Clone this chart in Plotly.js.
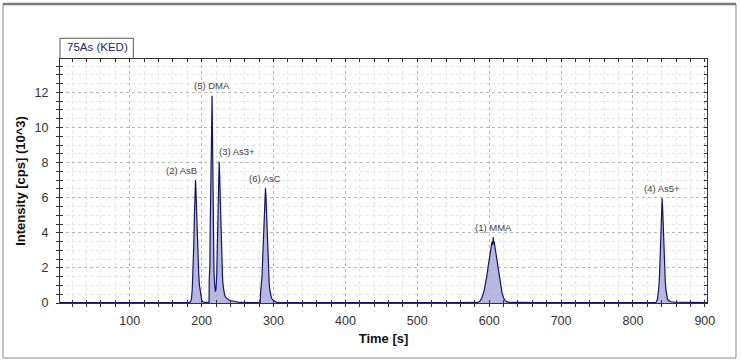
<!DOCTYPE html>
<html>
<head>
<meta charset="utf-8">
<script src="https://cdn.plot.ly/plotly-3.0.1.min.js"></script>
<style>
  html, body { margin: 0; padding: 0; background: #fff; }
  #chart { width: 741px; height: 363px; }
</style>
</head>
<body>
<div id="chart"></div>
<script>
// Retention time [s]
const timeSec = [
  3, 50, 100, 150, 183,
  185, 186, 187, 188, 189, 190, 191, 191.5, 192, 193, 194, 195, 196, 197, 198, 199, 200, 201, 202, 204, 207, 210.3,
  210.6, 211.5, 212.0, 212.6, 213.1, 213.8, 214.5, 215.0, 215.6, 216.3, 217.2, 218.2, 219.2,
  220, 221, 222, 223, 224, 224.4, 225, 226, 227, 228, 229, 230, 231, 232, 234, 236, 238, 240, 243, 246, 250, 254, 270, 281.5,
  282, 283, 284, 285, 286, 287, 288, 288.8, 289.5, 290, 291, 292, 293, 294, 295, 296, 297, 299, 301, 304, 308,
  350, 400, 450, 500, 550, 584,
  587, 590, 593, 595, 597, 599, 601, 603, 604, 605, 605.6, 606.3, 607, 608, 610, 612, 614, 616, 618, 620, 622, 625, 630,
  680, 730, 780, 800, 815, 832,
  834, 835, 836, 837, 838, 839, 840, 840.6, 841.2, 842, 843, 844, 845, 846, 847, 848, 850, 853, 858, 870, 885, 903
];
// Intensity [cps] (10^3)
const intensityK = [
  0.02, 0.02, 0.02, 0.02, 0.03,
  0.1, 0.3, 0.8, 1.7, 3.2, 5.0, 6.5, 7.0, 6.6, 5.3, 3.8, 2.5, 1.6, 1.0, 0.6, 0.35, 0.2, 0.12, 0.07, 0.04, 0.03, 0.04,
  1.3, 2.2, 4.5, 8.3, 6.8, 9.5, 11.8, 9.0, 6.0, 3.5, 1.8, 1.0, 0.65,
  0.8, 1.6, 3.5, 6.0, 7.8, 8.06, 7.4, 5.6, 3.8, 2.4, 1.5, 0.95, 0.65, 0.45, 0.3, 0.22, 0.17, 0.14, 0.12, 0.09, 0.05, 0.03, 0.02, 0.03,
  0.6, 0.9, 1.5, 2.6, 4.0, 5.4, 6.3, 6.54, 6.1, 5.4, 3.9, 2.6, 1.7, 1.1, 0.7, 0.45, 0.3, 0.17, 0.1, 0.05, 0.03,
  0.02, 0.02, 0.02, 0.02, 0.02, 0.03,
  0.1, 0.3, 0.7, 1.1, 1.6, 2.2, 2.8, 3.3, 3.5, 3.3, 3.75, 3.4, 3.5, 3.2, 2.7, 2.1, 1.5, 0.95, 0.55, 0.3, 0.15, 0.06, 0.03,
  0.02, 0.02, 0.02, 0.04, 0.03, 0.03,
  0.2, 0.5, 0.9, 1.6, 2.7, 4.2, 5.5, 5.97, 5.5, 4.3, 3.0, 1.9, 1.2, 0.7, 0.4, 0.22, 0.12, 0.07, 0.05, 0.04, 0.03, 0.02
];
// Peak labels
const peakNames = ["(2) AsB", "(5) DMA", "(3) As3+", "(6) AsC", "(1) MMA", "(4) As5+"];
const peakTimes = [191.5, 214.5, 224.4, 288.8, 605.6, 840.6];
const peakHeights = [7.0, 11.8, 8.06, 6.54, 3.75, 5.97];
const peakAnchor = ["right", "center", "left", "center", "center", "center"];

const xTickVals = [100, 200, 300, 400, 500, 600, 700, 800, 900];
const yTickVals = [0, 2, 4, 6, 8, 10, 12];
const xRange = [3, 903];
const yRange = [0, 13.9];

const font = "Liberation Sans, Arial, sans-serif";

const traces = [
  {
    x: timeSec, y: intensityK,
    type: "scatter", mode: "lines",
    line: { color: "#14146e", width: 1.2 },
    fill: "tozeroy", fillcolor: "rgba(175,175,222,0.9)",
    hoverinfo: "skip", showlegend: false
  },
  {
    x: [timeSec[0]], y: [intensityK[0]],
    xaxis: "x2", yaxis: "y2",
    type: "scatter", mode: "markers", marker: { opacity: 0 },
    hoverinfo: "skip", showlegend: false
  }
];

const annotations = peakNames.map((n, i) => ({
  x: peakTimes[i], y: peakHeights[i], xref: "x", yref: "y",
  text: n, showarrow: false,
  xanchor: peakAnchor[i], yanchor: "middle",
  yshift: 10, xshift: peakAnchor[i] === "left" ? -2 : (peakAnchor[i] === "right" ? 3 : 0),
  font: { family: font, size: 9.5, color: "#444" }
}));
annotations.push({
  x: 0.008, y: 1.049, xref: "paper", yref: "paper",
  text: "75As (KED)", showarrow: false, xanchor: "left", yanchor: "middle",
  font: { family: font, size: 11.5, color: "#1a2580" }
});

const shapes = [
  { type: "rect", xref: "paper", yref: "paper", x0: -0.0881, x1: 1.0448, y0: -0.2254, y1: 1.2254,
    line: { color: "#8a8a8a", width: 1 }, layer: "below" },
  { type: "line", xref: "paper", yref: "paper", x0: -0.0881, x1: 1.0448, y0: 1.2254, y1: 1.2254,
    line: { color: "#7a7a7a", width: 2.5 } },
  { type: "path", xref: "paper", yref: "paper",
    path: "M 0,1 L 0,1.085 L 0.1133,1.085 L 0.1133,1",
    line: { color: "#555", width: 1 } }
];

const layout = {
  width: 741, height: 363,
  margin: { l: 60, r: 34, t: 59, b: 60, pad: 0 },
  paper_bgcolor: "#fff", plot_bgcolor: "#fff",
  font: { family: font, color: "#333" },
  showlegend: false,
  xaxis: {
    range: xRange, tickvals: xTickVals, ticktext: xTickVals.map(String),
    ticks: "outside", ticklen: 3, tickcolor: "#333", tickwidth: 1,
    showline: true, linecolor: "#333", linewidth: 1, mirror: true,
    showgrid: true, gridcolor: "#b8b8b8", griddash: "dot", gridwidth: 1,
    zeroline: false,
    minor: { dtick: 20, tick0: 0, ticks: "outside", ticklen: 3, tickcolor: "#333",
             showgrid: true, gridcolor: "#e6e6e6", griddash: "dot" },
    tickfont: { family: font, size: 12.5, color: "#333" },
    ticklabelstandoff: 3,
    title: { text: "<b>Time [s]</b>", font: { family: font, size: 13, color: "#111" }, standoff: 6 }
  },
  yaxis: {
    range: yRange, tickvals: yTickVals, ticktext: yTickVals.map(String),
    ticks: "outside", ticklen: 3, tickcolor: "#333", tickwidth: 1,
    showline: true, linecolor: "#333", linewidth: 1, mirror: true,
    showgrid: true, gridcolor: "#b8b8b8", griddash: "dot", gridwidth: 1,
    zeroline: false,
    minor: { dtick: 0.5, tick0: 0, ticks: "outside", ticklen: 3, tickcolor: "#333",
             showgrid: true, gridcolor: "#e6e6e6", griddash: "dot" },
    tickfont: { family: font, size: 12.5, color: "#333" },
    ticklabelstandoff: 5,
    title: { text: "<b>Intensity [cps] (10^3)</b>", font: { family: font, size: 13, color: "#111" }, standoff: 6 }
  },
  xaxis2: {
    overlaying: "x", side: "bottom", anchor: "y", range: xRange,
    tickvals: xTickVals, ticks: "inside", ticklen: 3, tickcolor: "#333",
    showticklabels: false, showgrid: false, zeroline: false, showline: false, mirror: "ticks",
    minor: { dtick: 20, tick0: 0, ticks: "inside", ticklen: 3, tickcolor: "#333", showgrid: false }
  },
  yaxis2: {
    overlaying: "y", side: "left", anchor: "x", range: yRange,
    tickvals: yTickVals, ticks: "inside", ticklen: 3, tickcolor: "#333",
    showticklabels: false, showgrid: false, zeroline: false, showline: false, mirror: "ticks",
    minor: { dtick: 0.5, tick0: 0, ticks: "inside", ticklen: 3, tickcolor: "#333", showgrid: false }
  },
  annotations: annotations,
  shapes: shapes
};

Plotly.newPlot("chart", traces, layout, { staticPlot: true, displayModeBar: false });
</script>
</body>
</html>
